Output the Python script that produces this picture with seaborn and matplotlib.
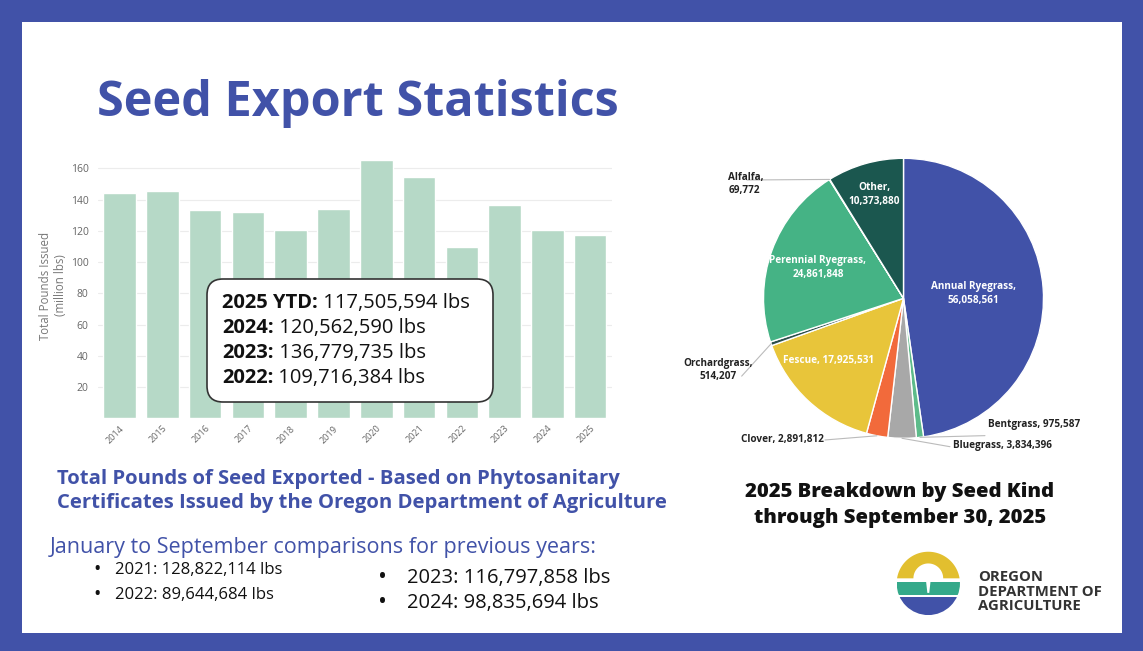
import numpy as np
import pandas as pd
import seaborn as sns
import matplotlib.pyplot as plt
from matplotlib.patches import Rectangle, FancyBboxPatch, Polygon, Circle

# ---- data ----
years = ["2014", "2015", "2016", "2017", "2018", "2019",
         "2020", "2021", "2022", "2023", "2024", "2025"]
pounds_million = [144.0, 145.8, 133.4, 131.9, 120.6, 133.8,
                  165.6, 154.7, 109.7, 136.8, 120.6, 117.5]

box_labels = ["2025 YTD:", "2024:", "2023:", "2022:"]
box_values = ["117,505,594 lbs", "120,562,590 lbs", "136,779,735 lbs", "109,716,384 lbs"]

seed_kinds = ["Annual Ryegrass", "Bentgrass", "Bluegrass", "Clover", "Fescue",
              "Orchardgrass", "Perennial Ryegrass", "Alfalfa", "Other"]
seed_lbs = [56058561, 975587, 3834396, 2891812, 17925531,
            514207, 24861848, 69772, 10373880]
seed_colors = ["#4152a8", "#5dbb8a", "#a8a8a8", "#f26a3b", "#e8c53a",
               "#2b4f4b", "#45b385", "#dcdcdc", "#1b574f"]

prev_years = ["2021", "2022", "2023", "2024"]
prev_lbs = ["128,822,114", "89,644,684", "116,797,858", "98,835,694"]

BLUE = "#4152a8"
BAR = "#b6d9c7"
W, H = 1143, 651

sns.set_theme(style="white")
plt.rcParams["font.family"] = ["Open Sans", "DejaVu Sans"]

fig = plt.figure(figsize=(W / 100, H / 100), dpi=100)
fig.patch.set_facecolor(BLUE)
fig.patches.append(Rectangle((22 / W, 18.3 / H), 1100 / W, 610.7 / H,
                             transform=fig.transFigure, facecolor="white",
                             edgecolor="none", zorder=-1))

# ---- bar chart ----
ax = fig.add_axes([98.3 / W, 1 - 418.3 / H, 513.2 / W, 265.6 / H])
df = pd.DataFrame({"year": years, "pounds": pounds_million})
sns.barplot(data=df, x="year", y="pounds", color=BAR, saturation=1,
            width=0.76, ax=ax)
ax.set_ylim(0, 170)
ax.set_yticks(range(20, 161, 20))
ax.yaxis.grid(True, color="#ececec", lw=0.8)
ax.set_axisbelow(True)
ax.patch.set_alpha(0)
sns.despine(ax=ax, left=True, bottom=True)
ax.tick_params(axis="both", length=0, colors="#666666")
ax.tick_params(axis="y", labelsize=7.5, pad=7)
ax.tick_params(axis="x", labelsize=6.5, pad=4)
for lab in ax.get_xticklabels():
    lab.set_rotation(45)
    lab.set_ha("right")
    lab.set_rotation_mode("anchor")
ax.set_xlabel("")
ax.set_ylabel("Total Pounds Issued\n(million lbs)", fontsize=8.3,
              color="#777777", labelpad=3)

# ---- pie chart ----
pa = fig.add_axes([763.5 / W, 1 - 438.3 / H, 280 / W, 280 / H])
wedges, _ = pa.pie(seed_lbs, colors=seed_colors, startangle=90,
                   counterclock=False,
                   wedgeprops=dict(edgecolor="white", linewidth=1))
pa.set_xlim(-1, 1)
pa.set_ylim(-1, 1)

# radius, two lines?, angle shift (deg) for labels inside the wedges
inside = {"Annual Ryegrass": (0.50, True, 0), "Perennial Ryegrass": (0.65, True, 0),
          "Other": (0.77, True, 0), "Fescue": (0.70, False, -7.5)}
outside = {"Alfalfa": ((-1.251, 0.816), "left", True, (-1.118, 0.845)),
           "Orchardgrass": ((-1.325, -0.512), "center", True, (-1.156, -0.556)),
           "Clover": ((-0.568, -1.012), "right", False, (-0.561, -1.012)),
           "Bentgrass": ((0.606, -0.905), "left", False, (0.582, -0.981)),
           "Bluegrass": ((0.356, -1.055), "left", False, (0.332, -1.06))}

for w, kind, val in zip(wedges, seed_kinds, seed_lbs):
    mid = np.deg2rad((w.theta1 + w.theta2) / 2)
    if kind in inside:
        r, two, shift = inside[kind]
        a = mid + np.deg2rad(shift)
        txt = f"{kind},\n{val:,}" if two else f"{kind}, {val:,}"
        pa.text(r * np.cos(a), r * np.sin(a), txt, ha="center", va="center",
                color="white", fontsize=7.2, weight="bold", linespacing=1.4)
    else:
        (tx, ty), ha, two, (lx, ly) = outside[kind]
        txt = f"{kind},\n{val:,}" if two else f"{kind}, {val:,}"
        pa.text(tx, ty, txt, ha=ha, va="center", color="#222222",
                fontsize=7.2, weight="bold", linespacing=1.3)
        pa.plot([np.cos(mid), lx], [np.sin(mid), ly], color="#bbbbbb",
                lw=0.8, clip_on=False)

# ---- overlay for free text ----
ov = fig.add_axes([0, 0, 1, 1], zorder=5)
ov.set_xlim(0, W)
ov.set_ylim(H, 0)
ov.axis("off")
ov.patch.set_alpha(0)

ov.text(97, 104, "Seed Export Statistics", va="center", ha="left",
        fontsize=35, weight="bold", color=BLUE)

ov.add_patch(FancyBboxPatch((207, 279), 286, 123,
                            boxstyle="round,pad=0,rounding_size=16",
                            facecolor="white", edgecolor="#333333", lw=1.2))
for i, (lab, val) in enumerate(zip(box_labels, box_values)):
    t = ov.text(222, 308 + i * 25, lab, fontsize=14.5, weight="bold",
                color="#111111", va="baseline")
    ov.annotate(" " + val, xy=(1, 0), xycoords=t, va="bottom", ha="left",
                fontsize=14.5, color="#111111")

ov.text(57, 479, "Total Pounds of Seed Exported - Based on Phytosanitary",
        fontsize=14.6, weight="bold", color=BLUE, va="center")
ov.text(57, 503, "Certificates Issued by the Oregon Department of Agriculture",
        fontsize=14.6, weight="bold", color=BLUE, va="center")
ov.text(50, 548, "January to September comparisons for previous years:",
        fontsize=15.5, weight=500, color=BLUE, va="center")

left_col = [(97, 115, 570, 12), (97, 115, 595, 12)]
right_col = [(383, 407, 578, 14.5), (383, 407, 603, 14.5)]
for (bx, tx, ty, fs), yr, lbs in zip(left_col + right_col, prev_years, prev_lbs):
    ov.text(bx, ty, "\u2022", fontsize=fs * 1.2, color="#111111", va="center", ha="center")
    ov.text(tx, ty, f"{yr}: {lbs} lbs", fontsize=fs, color="#111111", va="center")

ov.text(900, 492, "2025 Breakdown by Seed Kind", fontsize=14.6, weight=800,
        color="#111111", ha="center", va="center")
ov.text(900, 518, "through September 30, 2025", fontsize=14.6, weight=800,
        color="#111111", ha="center", va="center")

# ---- logo ----
la = fig.add_axes([(928.3 - 38) / W, (651 - 583.4 - 38) / H, 76 / W, 76 / H])
la.set_xlim(-1.2, 1.2)
la.set_ylim(-1.2, 1.2)
la.axis("off")
la.patch.set_alpha(0)
a0 = np.arcsin(0.16)
t_out = np.linspace(a0, np.pi - a0, 60)
t_in = np.linspace(np.pi, 0, 60)
pts = np.vstack([np.c_[np.cos(t_out), np.sin(t_out)],
                 np.c_[0.47 * np.cos(t_in), 0.16 + 0.47 * np.sin(t_in)]])
la.add_patch(Polygon(pts, closed=True, facecolor="#e2bf2f", edgecolor="none"))
clip = Circle((0, 0), 1, transform=la.transData)
green = Rectangle((-1, -0.37), 2, 0.42, facecolor="#34a98a", edgecolor="none")
la.add_patch(green)
green.set_clip_path(clip)
la.add_patch(Polygon([(-0.07, 0.06), (0.07, 0.06), (0.03, -0.3), (-0.03, -0.3)],
                     closed=True, facecolor="white", edgecolor="none"))
blue = Rectangle((-1, -1), 2, 0.58, facecolor=BLUE, edgecolor="none")
la.add_patch(blue)
blue.set_clip_path(clip)

for i, line in enumerate(["OREGON", "DEPARTMENT OF", "AGRICULTURE"]):
    ov.text(978, 577 + i * 14.5, line, fontsize=10.7, weight="bold",
            color="#333333", va="center")

fig.savefig("out.png", dpi=100, facecolor=fig.get_facecolor())
